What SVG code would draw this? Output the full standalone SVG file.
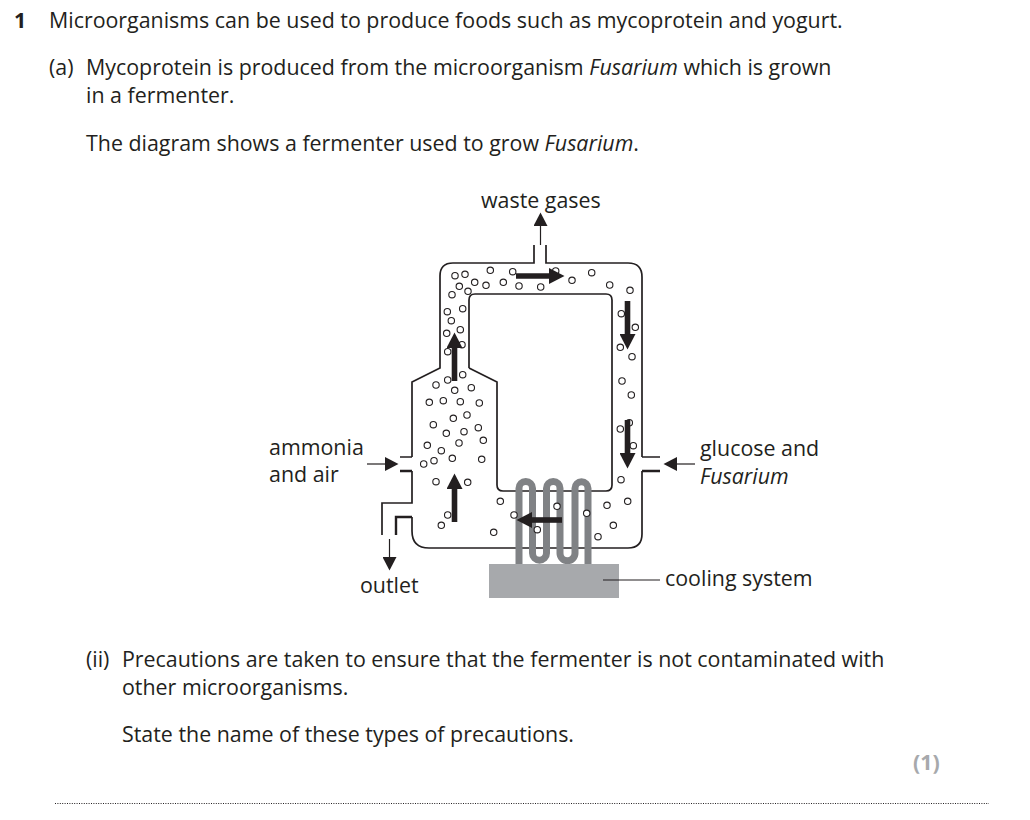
<svg xmlns="http://www.w3.org/2000/svg" width="1030" height="820" viewBox="0 0 1030 820">
<style>
text{font-family:"Open Sans","Noto Sans","Liberation Sans",sans-serif;font-size:21.4px;fill:#231f20}
.w{fill:none;stroke:#231f20;stroke-width:1.7}
.wt{fill:none;stroke:#231f20;stroke-width:2.4}
.t{fill:none;stroke:#231f20;stroke-width:1.2}
.b{fill:none;stroke:#231f20;stroke-width:5.6}
.bub circle{fill:#fff;stroke:#231f20;stroke-width:1.1;r:3.2px}
</style>
<defs>
<marker id="thin" markerUnits="userSpaceOnUse" markerWidth="14" markerHeight="14" refX="0" refY="7" orient="auto"><path d="M0,0L13.500,7L0,14Z" fill="#231f20"/></marker>
<marker id="bold" markerUnits="userSpaceOnUse" markerWidth="16" markerHeight="16" refX="0" refY="8" orient="auto"><path d="M0,0L15.500,8L0,16Z" fill="#231f20"/></marker>
</defs>
<rect width="1030" height="820" fill="#fff"/>
<g id="question">
<text x="14" y="28" font-weight="700">1</text>
<text x="49" y="28">Microorganisms can be used to produce foods such as mycoprotein and yogurt.</text>
<text x="49" y="75">(a)</text>
<text x="86" y="75">Mycoprotein is produced from the microorganism <tspan font-style="italic">Fusarium</tspan> which is grown</text>
<text x="86" y="103">in a fermenter.</text>
<text x="86" y="151">The diagram shows a fermenter used to grow <tspan font-style="italic">Fusarium</tspan>.</text>
<text x="86" y="667">(ii)</text>
<text x="122" y="667">Precautions are taken to ensure that the fermenter is not contaminated with</text>
<text x="122" y="695">other microorganisms.</text>
<text x="122" y="742">State the name of these types of precautions.</text>
<text x="913" y="770" font-weight="700" style="fill:#a7a9ac">(1)</text>
<line x1="55" y1="803.500" x2="989" y2="803.500" stroke="#231f20" stroke-width="1" stroke-dasharray="1 1.400"/>
</g>
<g id="fermenter">
<path class="w" d="M534,245V263H453Q440,263 440,276V368L412,382V457"/>
<path class="w" d="M546,245V263H628Q642,263 642,277V457"/>
<path class="w" d="M642,471V534Q642,548 628,548H429Q412,548 412,531V517"/>
<path class="w" d="M412,471V503H382V535"/>
<path class="wt" d="M396,535V517H412"/>
<path class="w" d="M400,457H412M642,457H660"/>
<path class="wt" d="M400,471H412M642,471H660"/>
<path class="w" d="M469,368V300Q469,294 475,294H606Q612,294 612,300V485Q612,491 606,491H503Q497,491 497,485V382L469,368"/>
</g>
<g id="cooling-system">
<path d="M519,564V488.300A6.750,6.750 0 0 1 532.500,488.300V553.200A7,7 0 0 0 546.500,553.200V488.300A6.750,6.750 0 0 1 560,488.300V553.200A7.500,7.500 0 0 0 575,553.200V488.300A6.500,6.500 0 0 1 588,488.300V564" fill="none" stroke="#808285" stroke-width="7"/>
<rect x="489" y="564" width="130" height="34" fill="#a7a9ac"/>
</g>
<g id="bubbles" class="bub">
<circle cx="455" cy="275.700"/><circle cx="465" cy="274.300"/><circle cx="490.300" cy="270.300"/><circle cx="512.700" cy="271.700"/><circle cx="555.700" cy="271"/><circle cx="572" cy="280.300"/><circle cx="591.700" cy="272.700"/><circle cx="609.700" cy="285"/><circle cx="630" cy="290.300"/><circle cx="474.700" cy="282.300"/><circle cx="459.300" cy="286.300"/><circle cx="468" cy="291.300"/><circle cx="486" cy="285.300"/><circle cx="503.300" cy="282.300"/><circle cx="519" cy="286"/><circle cx="540.700" cy="287"/><circle cx="452" cy="294.700"/><circle cx="462.700" cy="308.700"/><circle cx="447.300" cy="311.700"/><circle cx="451.300" cy="320.700"/><circle cx="460.300" cy="329.700"/><circle cx="446.700" cy="333.300"/><circle cx="462" cy="344.700"/><circle cx="447.700" cy="351.700"/><circle cx="621.300" cy="313.700"/><circle cx="635.300" cy="327.300"/><circle cx="620.300" cy="347.300"/><circle cx="632" cy="356.700"/><circle cx="622" cy="381"/><circle cx="631.300" cy="395"/><circle cx="462.700" cy="374.700"/><circle cx="447.700" cy="380"/><circle cx="436" cy="385"/><circle cx="454.700" cy="390.300"/><circle cx="471.300" cy="387.700"/>
<circle cx="429.300" cy="402.300"/><circle cx="443.300" cy="400.700"/><circle cx="460.300" cy="401.700"/><circle cx="479.300" cy="403"/><circle cx="453.300" cy="418.300"/><circle cx="467" cy="415"/><circle cx="433.300" cy="424.700"/><circle cx="446.300" cy="433.300"/><circle cx="464" cy="431.700"/><circle cx="478.300" cy="427.700"/><circle cx="483.300" cy="440.300"/><circle cx="459" cy="443"/><circle cx="427.300" cy="445.300"/><circle cx="441.300" cy="450.700"/><circle cx="434" cy="460.700"/><circle cx="423.700" cy="464"/><circle cx="452.300" cy="458.300"/><circle cx="481.700" cy="459.300"/><circle cx="436" cy="481.700"/><circle cx="467.700" cy="482.300"/><circle cx="500.300" cy="501.300"/><circle cx="447.700" cy="515"/><circle cx="441.300" cy="525.300"/><circle cx="493.700" cy="532.300"/><circle cx="514" cy="515"/>
<circle cx="629.300" cy="422.700"/><circle cx="620.300" cy="429"/><circle cx="633.300" cy="445.700"/><circle cx="621" cy="479.700"/><circle cx="607" cy="505.300"/><circle cx="627.700" cy="501.300"/><circle cx="557" cy="506.300"/><circle cx="586.700" cy="513.300"/><circle cx="613.300" cy="525.300"/><circle cx="537.300" cy="529.700"/><circle cx="598" cy="536.700"/>
</g>
<g id="connectors">
<line class="t" x1="540.500" y1="245" x2="540.500" y2="226" marker-end="url(#thin)"/>
<line class="t" x1="367" y1="464" x2="385" y2="464" marker-end="url(#thin)"/>
<line class="t" x1="695" y1="464" x2="677" y2="464" marker-end="url(#thin)"/>
<line class="t" x1="389.500" y1="539" x2="389.500" y2="557" marker-end="url(#thin)"/>
<line class="t" x1="603" y1="580" x2="660" y2="580"/>
<line class="b" x1="516" y1="276" x2="549" y2="276" marker-end="url(#bold)"/>
<line class="b" x1="627.500" y1="301" x2="627.500" y2="334" marker-end="url(#bold)"/>
<line class="b" x1="627.500" y1="420" x2="627.500" y2="453" marker-end="url(#bold)"/>
<line class="b" x1="454.500" y1="381" x2="454.500" y2="348" marker-end="url(#bold)"/>
<line class="b" x1="454.500" y1="522" x2="454.500" y2="489" marker-end="url(#bold)"/>
<line class="b" x1="562" y1="520" x2="532" y2="520" marker-end="url(#bold)"/>
</g>
<g id="labels">
<text x="481" y="208">waste gases</text>
<text x="269" y="455">ammonia</text>
<text x="269" y="482">and air</text>
<text x="700" y="456">glucose and</text>
<text x="700" y="484" font-style="italic">Fusarium</text>
<text x="360" y="593">outlet</text>
<text x="665" y="586">cooling system</text>
</g>
</svg>
